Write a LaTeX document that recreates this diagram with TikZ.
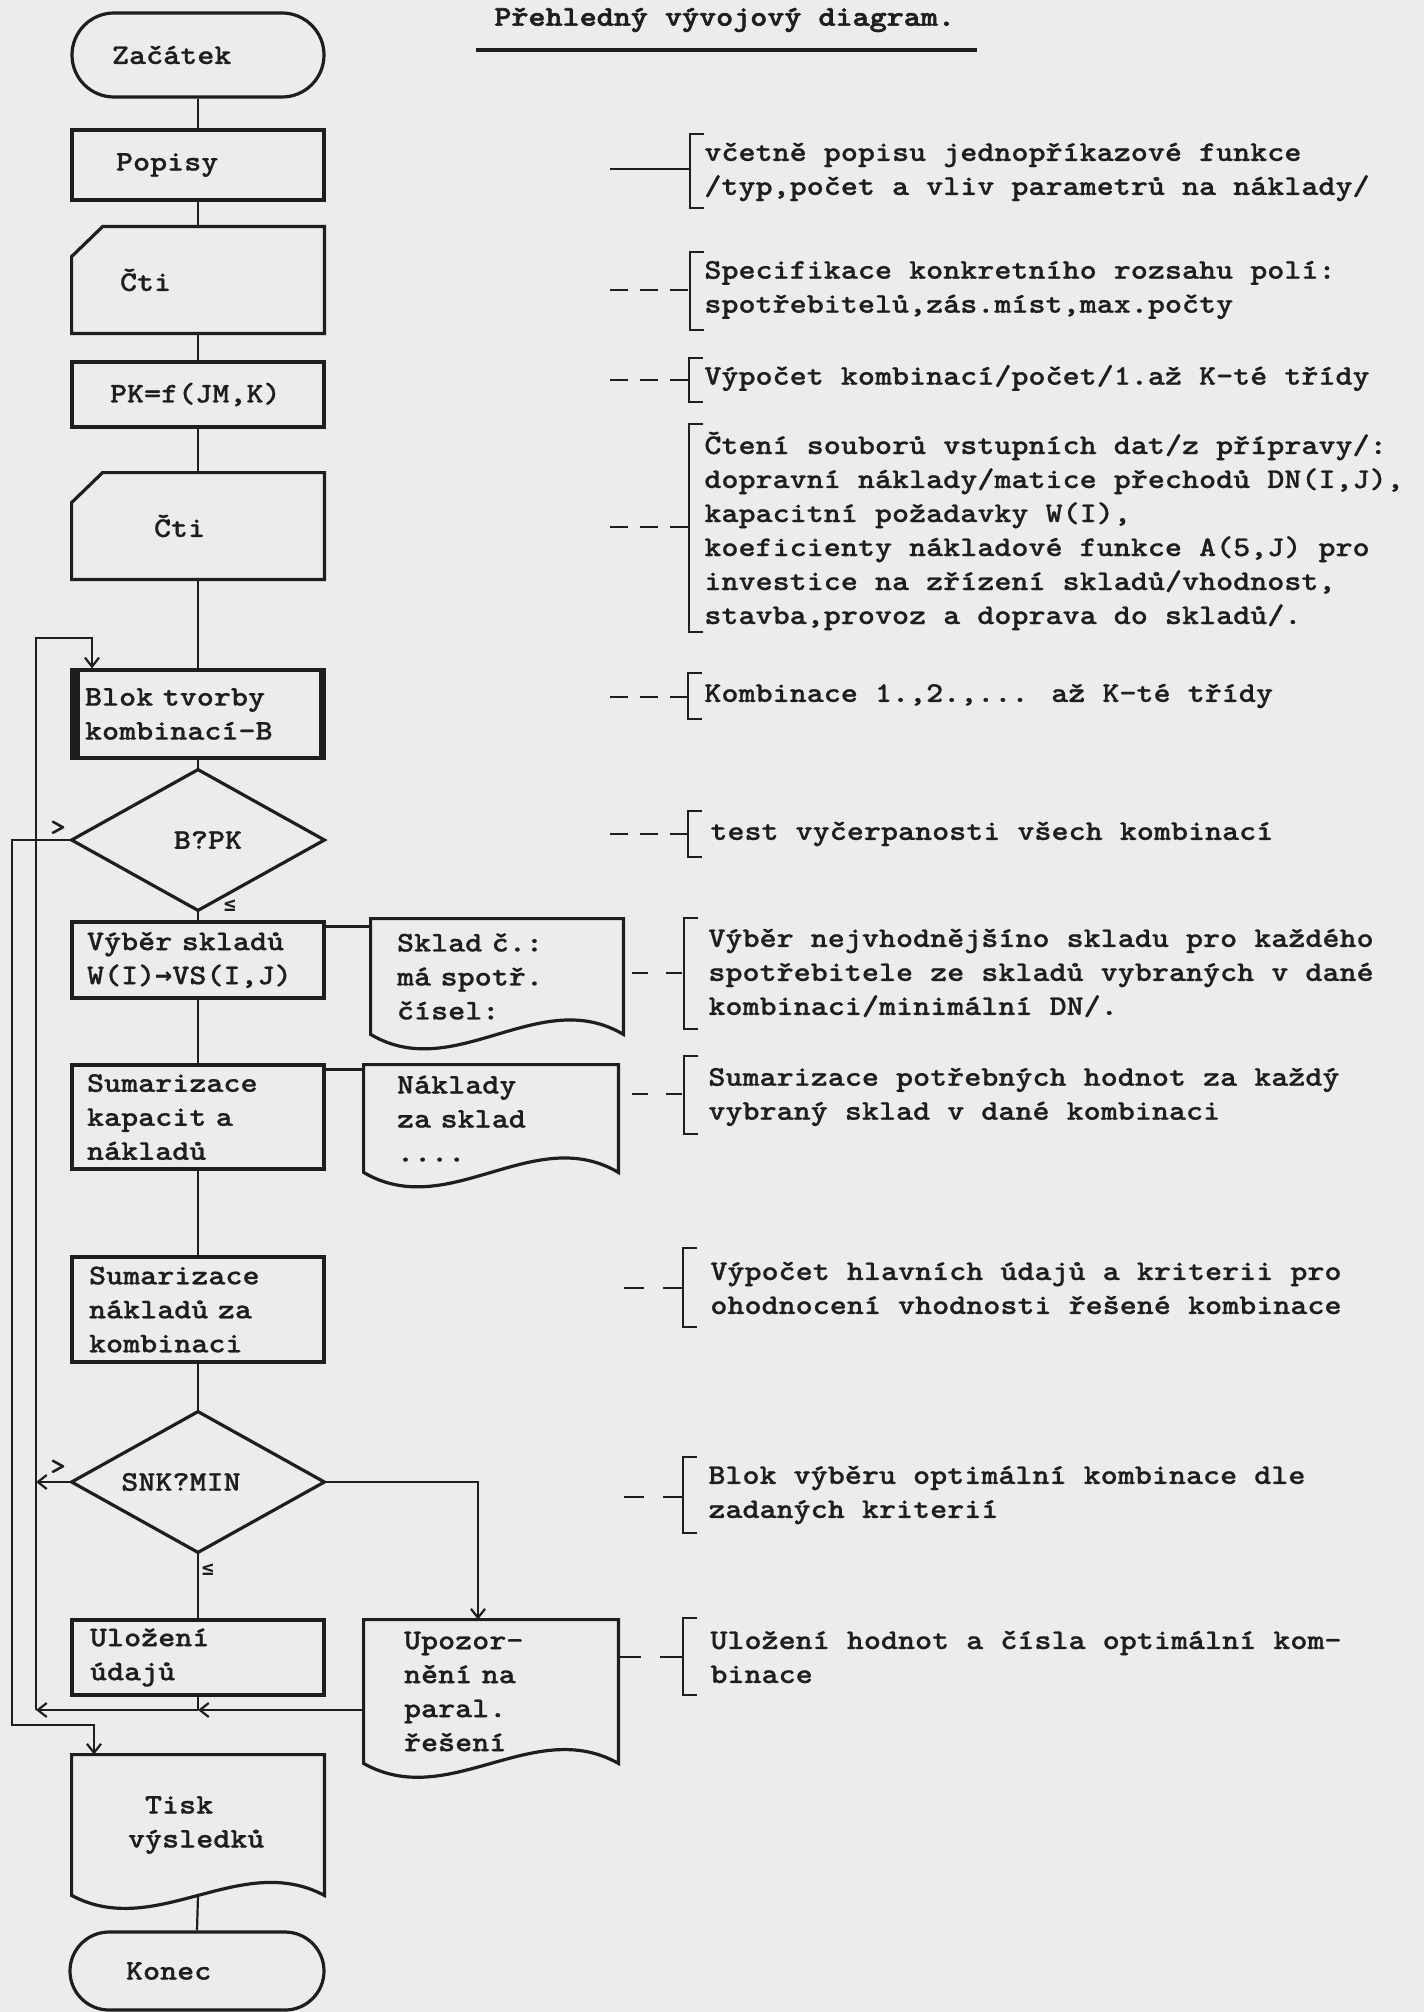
\documentclass[tikz,border=0pt]{standalone}
\usepackage{fontspec}
\newfontfamily\tw{lmmonolt10-bold.otf}[FakeStretch=1.14,FakeBold=0.8]
\newfontfamily\twh{lmmonolt10-bold.otf}[FakeStretch=1.14,FakeBold=2]
\newfontfamily\sym{DejaVu Sans Mono}
\usetikzlibrary{arrows.meta,calc}
\definecolor{paper}{RGB}{236,236,236}
\definecolor{ink}{RGB}{30,30,30}
\tikzset{
  txt/.style={font=\tw\fontsize{14.25}{17}\selectfont, text=ink},
  fbox/.style={txt, rectangle, draw=ink, line width=1.6pt, inner ysep=0pt, align=left},
  nobox/.style={txt, rectangle, inner ysep=0pt, align=left},
  shapeline/.style={draw=ink, line width=1.6pt},
  conn/.style={draw=ink, line width=1.1pt, >={Straight Barb[length=4.5pt,width=7pt]}},
  brk/.style={draw=ink, line width=1.2pt},
  lead/.style={draw=ink, line width=1.2pt, dash pattern=#1},
  note/.style={txt, anchor=west, align=left, inner sep=0pt},
  lbl/.style={font=\tw\fontsize{13}{14}\selectfont, text=ink, inner sep=0pt},
  slbl/.style={font=\sym\bfseries\fontsize{10}{12}\selectfont, text=ink, inner sep=0pt},
}
\newcommand\notebracket[3]{\draw[brk] (#1+14,#2) -- (#1,#2) -- (#1,#3) -- (#1+14,#3);}
\newcommand\noteleader[5]{\coordinate (#1s) at (#2,#4); \coordinate (#1e) at (#3,#4); \draw[lead={#5}] (#1s) -- (#1e);}
\newcommand\docout[2]{\draw[shapeline] (#1.north west) -- (#1.south west) .. controls ($(#1.south west)!0.333!(#1.south east)+(0,#2)$) and ($(#1.south west)!0.667!(#1.south east)-(0,#2)$) .. (#1.south east) -- (#1.north east) -- cycle;}
\newcommand\cutout[1]{\draw[shapeline] ([yshift=-15pt]#1.north west) -- ([xshift=15.5pt]#1.north west) -- (#1.north east) -- (#1.south east) -- (#1.south west) -- cycle;}
\begin{document}
\begin{tikzpicture}[x=0.5pt,y=-0.5pt]
\fill[paper] (0,0) rectangle (1424,2012);
\useasboundingbox (0,0) rectangle (1424,2012);

% title
\node[txt, font=\twh\fontsize{14.25}{17}\selectfont, anchor=west, inner sep=0pt] (title) at (494,20) {Přehledný vývojový diagram.};
\coordinate (ulA) at (476,50); \coordinate (ulB) at (977,50);
\draw[draw=ink, line width=1.7pt] (ulA) -- (ulB);

% flowchart nodes
\node[fbox, rounded corners=21pt, minimum width=126pt, minimum height=42pt, inner xsep=20pt, text width=86pt] (start) at (198,55) {Začátek};
\node[fbox, minimum width=126pt, minimum height=35pt, inner xsep=22pt, text width=82pt] (popisy) at (198,165) {Popisy};
\node[nobox, minimum width=126pt, minimum height=53pt, inner xsep=24pt, text width=78pt] (cti1) at (198,280) {Čti};
\node[fbox, minimum width=126pt, minimum height=32.5pt, inner xsep=19pt, text width=88pt] (pk) at (198,394.5) {PK=f(JM,K)};
\node[nobox, minimum width=126pt, minimum height=53pt, inner xsep=41pt, text width=44pt] (cti2) at (198,526) {Čti};
\node[fbox, minimum width=126pt, minimum height=44pt, inner xsep=6.5pt, text width=113pt] (blok) at (198,714) {Blok tvorby\\kombinací-B};
\node[nobox, minimum width=126pt, minimum height=70pt, inner xsep=0pt, text width=126pt, align=center] (bpk) at (198,840) {\hspace*{10pt}B?PK};
\node[fbox, minimum width=126pt, minimum height=38pt, inner xsep=7.5pt, text width=111pt] (vyber) at (198,960) {Výběr skladů\\W(I){\sym\bfseries\fontsize{14.2}{17}\selectfont →}VS(I,J)};
\node[nobox, minimum width=126pt, minimum height=57.5pt, inner xsep=13pt, text width=100pt] (sklad) at (497,976.5) {Sklad č.:\\má spotř.\\čísel:};
\node[fbox, minimum width=126pt, minimum height=52pt, inner xsep=7.5pt, text width=111pt] (sum1) at (198,1117) {Sumarizace\\kapacit a\\nákladů};
\node[nobox, minimum width=127pt, minimum height=53.5pt, inner xsep=16.5pt, text width=94pt] (naklady) at (491,1118.5) {Náklady\\za sklad\\....};
\node[fbox, minimum width=126pt, minimum height=52.5pt, inner xsep=8.5pt, text width=109pt] (sum2) at (198,1309.5) {Sumarizace\\nákladů za\\kombinaci};
\node[nobox, minimum width=126pt, minimum height=70pt, inner xsep=0pt, text width=126pt, align=center] (snk) at (198,1482) {SNK?MIN\hspace*{17pt}};
\node[fbox, minimum width=126pt, minimum height=37.5pt, inner xsep=9pt, text width=108pt] (ulo) at (198,1657.5) {Uložení\\údajů};
\node[nobox, minimum width=127pt, minimum height=71.5pt, inner xsep=20pt, text width=87pt] (ups) at (491,1691.5) {Upozor-\\nění na\\paral.\\řešení};
\node[nobox, minimum width=126pt, minimum height=70pt, inner xsep=28pt, text width=70pt] (tisk) at (198,1825) {\hspace*{8.5pt}Tisk\\výsledků};
\node[fbox, rounded corners=19.5pt, minimum width=127pt, minimum height=39pt, inner xsep=28pt, text width=71pt] (konec) at (197,1971) {Konec};

% special outlines
\cutout{cti1}
\cutout{cti2}
\fill[ink] (blok.north west) rectangle ([xshift=5pt]blok.south west);
\fill[ink] ([xshift=-3.5pt]blok.north east) rectangle (blok.south east);
\draw[shapeline] (bpk.north) -- (bpk.east) -- (bpk.south) -- (bpk.west) -- cycle;
\draw[shapeline] (snk.north) -- (snk.east) -- (snk.south) -- (snk.west) -- cycle;
\docout{sklad}{50}
\docout{naklady}{50}
\docout{ups}{48}
\docout{tisk}{45}

% main connectors
\draw[conn] (start) -- (popisy);
\draw[conn] (popisy) -- (cti1);
\draw[conn] (cti1) -- (pk);
\draw[conn] (pk) -- (cti2);
\draw[conn] (cti2) -- (blok);
\draw[conn] (blok) -- (bpk);
\draw[conn] (bpk) -- (vyber);
\draw[conn] (vyber) -- (sum1);
\draw[conn] (sum1) -- (sum2);
\draw[conn] (sum2) -- (snk);
\draw[conn] (snk) -- (ulo);
\draw[conn] (tisk.south) -- (konec.north);
\coordinate (vy1) at ([yshift=-3pt]vyber.north east);
\draw[conn] (vy1) -- (vy1 -| sklad.west);
\coordinate (su1) at ([yshift=-3pt]sum1.north east);
\draw[conn] (su1) -- (su1 -| naklady.west);

% loops
\coordinate (oA) at (12,1725);
\coordinate (oB) at (94,1725);
\draw[conn,->] (bpk.west) -- (bpk.west -| oA) -- (oA) -- (oB) -- (oB |- tisk.north);
\coordinate (retM) at (198,1710);
\coordinate (retL) at (36,1710);
\coordinate (iA) at (36,638);
\coordinate (iB) at (92,638);
\coordinate (iC) at (478,1482);
\draw[conn,->] (ups.west |- retM) -- (retM);
\draw[conn,->] (retM) -- (retL);
\draw[conn] (ulo.south) -- (retM);
\draw[conn,->] (retL) -- (iA) -- (iB) -- (iB |- blok.north);
\draw[conn,->] (snk.west) -- (snk.west -| retL);
\draw[conn,->] (snk.east) -- (iC) -- (iC |- ups.north);

% branch marks
\node[lbl] (gt1) at (58,828) {>};
\node[slbl] (le1) at (230,906) {≤};
\node[lbl] (gt2) at (58,1467) {>};
\node[slbl] (le2) at (208,1570) {≤};

% notes
\node[note] (n1) at (704,172) {včetně popisu jednopříkazové funkce\\/typ,počet a vliv parametrů na náklady/};
\node[note] (n2) at (704,290) {Specifikace konkretního rozsahu polí:\\spotřebitelů,zás.míst,max.počty};
\node[note] (n3) at (704,378) {Výpočet kombinací/počet/1.až K-té třídy};
\node[note] (n4) at (704,531) {Čtení souborů vstupních dat/z přípravy/:\\dopravní náklady/matice přechodů DN(I,J),\\kapacitní požadavky W(I),\\koeficienty nákladové funkce A(5,J) pro\\investice na zřízení skladů/vhodnost,\\stavba,provoz a doprava do skladů/.};
\node[note] (n5) at (704,696) {Kombinace 1.,2.,... až K-té třídy};
\node[note] (n6) at (710,834) {test vyčerpanosti všech kombinací};
\node[note] (n7) at (708,973) {Výběr nejvhodnějšíno skladu pro každého\\spotřebitele ze skladů vybraných v dané\\kombinaci/minimální DN/.};
\node[note] (n8) at (708,1097) {Sumarizace potřebných hodnot za každý\\vybraný sklad v dané kombinaci};
\node[note] (n9) at (710,1288) {Výpočet hlavních údajů a kriterii pro\\ohodnocení vhodnosti řešené kombinace};
\node[note] (n10) at (708,1495) {Blok výběru optimální kombinace dle\\zadaných kriterií};
\node[note] (n11) at (710,1657) {Uložení hodnot a čísla optimální kom-\\binace};

% brackets
\notebracket{690}{134}{208}
\notebracket{690}{252}{330}
\notebracket{689}{358}{402}
\notebracket{689}{424}{632}
\notebracket{688}{673}{719}
\notebracket{688}{811}{857}
\notebracket{684}{918}{1029}
\notebracket{684}{1056}{1134}
\notebracket{683}{1248}{1327}
\notebracket{683}{1457}{1533}
\notebracket{683}{1618}{1695}

% leaders
\coordinate (l1s) at (610,169); \coordinate (l1e) at (690,169);
\draw[brk] (l1s) -- (l1e);
\noteleader{l2}{610}{690}{290}{on 9pt off 6pt}
\noteleader{l3}{610}{689}{380}{on 9pt off 6pt}
\noteleader{l4}{610}{689}{527}{on 9pt off 6pt}
\noteleader{l5}{610}{688}{697}{on 9pt off 6pt}
\noteleader{l6}{610}{688}{834}{on 9pt off 6pt}
\noteleader{l7}{632}{684}{973}{on 8pt off 9pt}
\noteleader{l8}{632}{684}{1094}{on 8pt off 9pt}
\noteleader{l9}{624}{683}{1288}{on 10pt off 9.5pt}
\noteleader{l10}{624}{683}{1497}{on 10pt off 9.5pt}
\coordinate (l11e) at (683,1657);
\draw[lead={on 11.5pt off 9.5pt}] (ups.east |- l11e) -- (l11e);
\end{tikzpicture}
\end{document}
